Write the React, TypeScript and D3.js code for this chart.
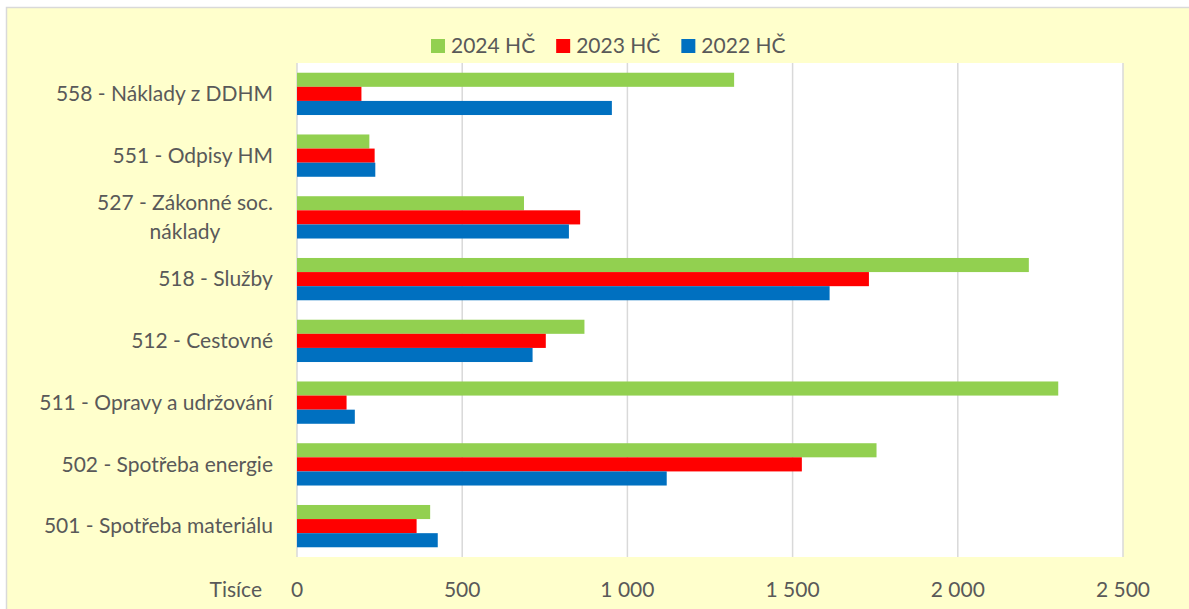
import * as d3 from 'd3'
import { useEffect, useRef } from 'react'

// categories top to bottom, a label with '\n' is drawn on two lines
const categories = [
  '558 - Náklady z DDHM',
  '551 - Odpisy HM',
  '527 - Zákonné soc.\nnáklady',
  '518 - Služby',
  '512 - Cestovné',
  '511 - Opravy a udržování',
  '502 - Spotřeba energie',
  '501 - Spotřeba materiálu',
]
const seriesNames = ['2024 HČ', '2023 HČ', '2022 HČ']
const seriesColors = ['#92D050', '#FF0000', '#0070C0']
const values2024 = [1323, 219, 687, 2215, 870, 2304, 1754, 403]
const values2023 = [195, 235, 857, 1731, 753, 150, 1528, 362]
const values2022 = [953, 237, 823, 1612, 713, 175, 1119, 426]
const xTicks = [0, 500, 1000, 1500, 2000, 2500]
const unitLabel = 'Tisíce'

const W = 1189
const H = 609
const FONT = 'Lato, "Liberation Sans", sans-serif'
const TEXT = '#595959'

const App = () => {
  const svgRef = useRef<SVGSVGElement>(null)

  useEffect(() => {
    const svg = d3.select(svgRef.current)
    svg.selectAll('*').remove()

    // outer chart area
    svg.append('rect').attr('width', W).attr('height', H).attr('fill', '#ffffff')
    svg
      .append('rect')
      .attr('x', 6.5)
      .attr('y', 7.5)
      .attr('width', W + 10)
      .attr('height', H + 10)
      .attr('fill', '#FFFFCC')
      .attr('stroke', '#D9D9D9')
      .attr('stroke-width', 1.5)

    const plot = { left: 297, right: 1123, top: 63, bottom: 557 }

    const x = d3.scaleLinear().domain([0, 2500]).range([plot.left, plot.right])
    const y = d3
      .scaleBand()
      .domain(categories)
      .range([plot.top, plot.bottom])
      .paddingInner(0.315)
      .paddingOuter(0.1575)
    const ys = d3.scaleBand().domain(seriesNames).range([0, y.bandwidth()])

    svg
      .append('rect')
      .attr('x', plot.left)
      .attr('y', plot.top)
      .attr('width', plot.right - plot.left)
      .attr('height', plot.bottom - plot.top)
      .attr('fill', '#ffffff')

    // gridlines
    svg
      .append('g')
      .selectAll('line')
      .data(xTicks)
      .enter()
      .append('line')
      .attr('x1', (d) => x(d))
      .attr('x2', (d) => x(d))
      .attr('y1', plot.top)
      .attr('y2', plot.bottom)
      .attr('stroke', '#D9D9D9')
      .attr('stroke-width', 1.5)

    // bars
    const allValues = [values2024, values2023, values2022]
    const rows = categories.flatMap((c, i) =>
      seriesNames.map((s, j) => ({ c, s, j, v: allValues[j][i] }))
    )
    svg
      .append('g')
      .selectAll('rect')
      .data(rows)
      .enter()
      .append('rect')
      .attr('x', x(0))
      .attr('y', (d) => (y(d.c) as number) + (ys(d.s) as number))
      .attr('width', (d) => x(d.v) - x(0))
      .attr('height', ys.bandwidth())
      .attr('fill', (d) => seriesColors[d.j])

    // category labels
    const labelRight = 273
    const labels = svg
      .append('g')
      .attr('font-family', FONT)
      .attr('font-size', 21)
      .attr('fill', TEXT)
    categories.forEach((c) => {
      const lines = c.split('\n')
      const cy = (y(c) as number) + y.bandwidth() / 2
      const lh = 29
      const t = labels.append('text').attr('text-anchor', 'middle')
      lines.forEach((ln, k) => {
        t.append('tspan')
          .attr('x', 0)
          .attr('y', cy + (k - (lines.length - 1) / 2) * lh)
          .attr('dy', '0.35em')
          .text(ln)
      })
      // center the block so its widest line ends at labelRight
      const w = (t.node() as SVGTextElement).getBBox().width
      t.selectAll('tspan').attr('x', labelRight - w / 2)
    })

    // x tick labels
    const axis = svg
      .append('g')
      .attr('font-family', FONT)
      .attr('font-size', 21)
      .attr('fill', TEXT)
    axis
      .selectAll('text')
      .data(xTicks)
      .enter()
      .append('text')
      .attr('x', (d) => x(d))
      .attr('y', 597)
      .attr('text-anchor', 'middle')
      .text((d) => d3.format(',')(d).replace(/,/g, ' '))
    axis
      .append('text')
      .attr('x', 262)
      .attr('y', 597)
      .attr('text-anchor', 'end')
      .text(unitLabel)

    // legend
    const legend = svg
      .append('g')
      .attr('font-family', FONT)
      .attr('font-size', 21)
      .attr('fill', TEXT)
    let lx = 431
    seriesNames.forEach((s, j) => {
      legend
        .append('rect')
        .attr('x', lx)
        .attr('y', 39)
        .attr('width', 14)
        .attr('height', 14)
        .attr('fill', seriesColors[j])
      const t = legend
        .append('text')
        .attr('x', lx + 20)
        .attr('y', 53)
        .text(s)
      lx += 20 + (t.node() as SVGTextElement).getComputedTextLength() + 21
    })
  }, [])

  return (
    <svg
      ref={svgRef}
      width={W}
      height={H}
      style={{ position: 'absolute', left: 0, top: 0 }}
    ></svg>
  )
}

export default App
